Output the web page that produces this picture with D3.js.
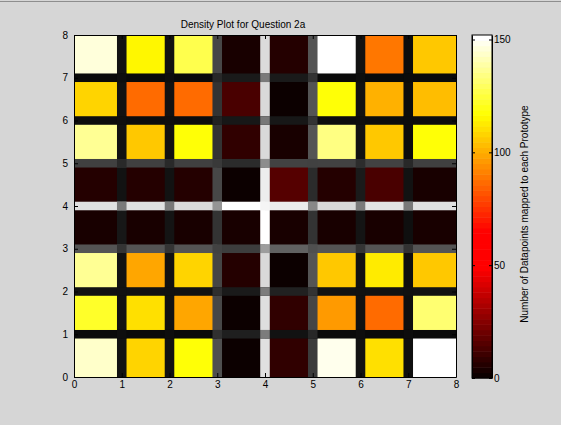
<!DOCTYPE html>
<html>
<head>
<meta charset="utf-8">
<script src="https://cdn.jsdelivr.net/npm/d3@7"></script>
<style>
  body { margin: 0; background: #d6d6d6; }
  svg { display: block; }
  text { font-family: "Liberation Sans", Arial, sans-serif; }
</style>
</head>
<body>
<svg id="chart"></svg>
<script>
// NEEDED VARIABLES
var width = 561;
var height = 425;
var plot = {left: 74, right: 456, top: 35, bottom: 377};
var bar = {left: 472, right: 492};

// DATA
// number of datapoints per prototype, rows from top (y 7-8) to bottom (y 0-1)
var counts = [
  [145, 116, 126,   3,   6, 152,  90, 105],
  [109,  87,  87,  13,   2, 118, 101, 103],
  [137, 105, 118,   9,   3, 134, 105, 118],
  [  6,   6,   6,   2,  16,   6,  13,   3],
  [  3,   3,   3,   3,   3,   3,   3,   3],
  [137,  99, 109,   6,   2, 105, 113, 105],
  [122, 110,  99,   2,   9,  96,  87, 132],
  [144, 109, 118,   2,   9, 148, 110, 152]
];
// distances to neighbour across vertical borders x = 1..7, rows top to bottom (grey level 0..1)
var vGaps = [
  [0.07, 0.07, 0.07, 0.07, 0.09, 0.07, 0.07, 0.07],
  [0.07, 0.07, 0.07, 0.07, 0.08, 0.07, 0.07, 0.07],
  [0.28, 0.20, 0.20, 0.28, 0.20, 0.27, 0.28, 0.31],
  [0.86, 0.85, 0.85, 0.93, 1.00, 0.85, 0.87, 0.88],
  [0.33, 0.33, 0.33, 0.17, 0.20, 0.33, 0.27, 0.23],
  [0.07, 0.07, 0.07, 0.10, 0.08, 0.07, 0.07, 0.07],
  [0.05, 0.05, 0.05, 0.07, 0.06, 0.06, 0.06, 0.06]
];
// distances across horizontal borders y = 7..1, columns left to right
var hGaps = [
  [0.04, 0.04, 0.04, 0.10, 0.10, 0.04, 0.04, 0.04],
  [0.05, 0.05, 0.05, 0.09, 0.09, 0.05, 0.05, 0.05],
  [0.25, 0.25, 0.25, 0.17, 0.26, 0.26, 0.26, 0.25],
  [0.88, 0.88, 0.86, 1.00, 0.92, 0.85, 0.89, 0.88],
  [0.33, 0.33, 0.33, 0.24, 0.38, 0.33, 0.33, 0.33],
  [0.07, 0.07, 0.07, 0.10, 0.13, 0.07, 0.07, 0.07],
  [0.04, 0.04, 0.04, 0.12, 0.07, 0.04, 0.04, 0.04]
];
var axisTicks = [0, 1, 2, 3, 4, 5, 6, 7, 8];
var barTicks = [0, 50, 100, 150];
var colorMax = 152;
var titleText = "Density Plot for Question 2a";
var barLabel = "Number of Datapoints mapped to each Prototype";

var svg = d3.select("#chart")
  .attr("width", width)
  .attr("height", height);

// window frame line at top
svg.append("line")
  .attr("x1", 0).attr("x2", width)
  .attr("y1", 1.5).attr("y2", 1.5)
  .attr("stroke", "#8e8e8e")
  .attr("stroke-width", 1);

// SCALES
var xScale = d3.scaleLinear().domain([0, 8]).range([plot.left, plot.right]);
var yScale = d3.scaleLinear().domain([0, 8]).range([plot.bottom, plot.top]);

// hot-like colormap, 64 steps
var hot = d3.scaleLinear()
  .domain([0, 50, 66, 118, colorMax])
  .range(["#000000", "#ff0000", "#ff0000", "#ffff00", "#ffffff"])
  .clamp(true);
var nLevels = 64;
var levelColor = function(k){ return hot((k + 1) / nLevels * colorMax); };
var colorScale = function(v){
  var k = Math.min(nLevels - 1, Math.floor(v / colorMax * nLevels));
  return levelColor(k);
};
var grey = function(g){
  var c = Math.round(g * 255);
  return "rgb(" + c + "," + c + "," + c + ")";
};

svg.append("clipPath").attr("id", "plotClip")
  .append("rect")
  .attr("x", plot.left).attr("y", plot.top)
  .attr("width", plot.right - plot.left)
  .attr("height", plot.bottom - plot.top);

var grid = svg.append("g").attr("clip-path", "url(#plotClip)");

// cells
var cellData = [];
counts.forEach(function(row, r){
  row.forEach(function(v, c){ cellData.push({row: r, col: c, value: v}); });
});
grid.append("g")
  .selectAll("rect")
  .data(cellData)
  .join("rect")
  .attr("x", function(d){ return xScale(d.col); })
  .attr("y", function(d){ return yScale(8 - d.row); })
  .attr("width", xScale(1) - xScale(0))
  .attr("height", yScale(0) - yScale(1))
  .attr("fill", function(d){ return colorScale(d.value); });

// border segments
var segW = 0.2;
var vData = [];
vGaps.forEach(function(col, j){
  col.forEach(function(g, r){ vData.push({x: j + 1, row: r, g: g}); });
});
grid.append("g")
  .selectAll("rect")
  .data(vData)
  .join("rect")
  .attr("x", function(d){ return xScale(d.x - segW / 2); })
  .attr("y", function(d){ return yScale(8 - d.row); })
  .attr("width", xScale(segW) - xScale(0))
  .attr("height", yScale(0) - yScale(1))
  .attr("fill", function(d){ return grey(d.g); });

var hData = [];
hGaps.forEach(function(row, m){
  row.forEach(function(g, c){ hData.push({y: 7 - m, col: c, g: g}); });
});
grid.append("g")
  .selectAll("rect")
  .data(hData)
  .join("rect")
  .attr("x", function(d){ return xScale(d.col); })
  .attr("y", function(d){ return yScale(d.y + segW / 2); })
  .attr("width", xScale(1) - xScale(0))
  .attr("height", yScale(0) - yScale(segW))
  .attr("fill", function(d){ return grey(d.g); });

// crossings take the mean of their four neighbouring borders
var crossData = [];
for (var j = 1; j <= 7; j++) {
  for (var m = 0; m < 7; m++) {
    var mean = (vGaps[j - 1][m] + vGaps[j - 1][m + 1] + hGaps[m][j - 1] + hGaps[m][j]) / 4;
    crossData.push({x: j, y: 7 - m, g: mean});
  }
}
grid.append("g")
  .selectAll("rect")
  .data(crossData)
  .join("rect")
  .attr("x", function(d){ return xScale(d.x - segW / 2); })
  .attr("y", function(d){ return yScale(d.y + segW / 2); })
  .attr("width", xScale(segW) - xScale(0))
  .attr("height", yScale(0) - yScale(segW))
  .attr("fill", function(d){ return grey(d.g); });

// AXES
function styleAxis(g){
  g.selectAll("path").attr("stroke", "#000");
  g.selectAll("line").attr("stroke", "#000");
  g.selectAll("text").attr("fill", "#000").style("font-size", "10px");
}

svg.append("g")
  .attr("transform", "translate(0," + plot.bottom + ")")
  .call(d3.axisBottom(xScale).tickValues(axisTicks).tickSizeInner(-4).tickSizeOuter(0).tickPadding(4).tickFormat(d3.format("d")))
  .call(styleAxis);
svg.append("g")
  .attr("transform", "translate(" + plot.left + ",0)")
  .call(d3.axisLeft(yScale).tickValues(axisTicks).tickSizeInner(-4).tickSizeOuter(0).tickPadding(6).tickFormat(d3.format("d")))
  .call(styleAxis);
svg.append("g")
  .attr("transform", "translate(0," + plot.top + ")")
  .call(d3.axisTop(xScale).tickValues(axisTicks).tickSizeInner(-4).tickSizeOuter(0).tickFormat(""))
  .call(styleAxis);
svg.append("g")
  .attr("transform", "translate(" + plot.right + ",0)")
  .call(d3.axisRight(yScale).tickValues(axisTicks).tickSizeInner(-4).tickSizeOuter(0).tickFormat(""))
  .call(styleAxis);

// TITLE
svg.append("text")
  .attr("x", 243)
  .attr("y", 28)
  .attr("text-anchor", "middle")
  .style("font-size", "10px")
  .attr("fill", "#000")
  .text(titleText);

// COLORBAR
var barScale = d3.scaleLinear().domain([0, colorMax]).range([plot.bottom + 1, plot.top]);
var levels = d3.range(nLevels);
svg.append("g")
  .selectAll("rect")
  .data(levels)
  .join("rect")
  .attr("x", bar.left)
  .attr("width", bar.right - bar.left)
  .attr("y", function(k){ return barScale((k + 1) / nLevels * colorMax); })
  .attr("height", function(k){ return barScale(k / nLevels * colorMax) - barScale((k + 1) / nLevels * colorMax) + 0.5; })
  .attr("fill", levelColor);

svg.append("rect")
  .attr("x", bar.left).attr("y", plot.top)
  .attr("width", bar.right - bar.left)
  .attr("height", plot.bottom + 1 - plot.top)
  .attr("fill", "none")
  .attr("stroke", "#000");

svg.append("g")
  .attr("transform", "translate(" + bar.right + ",0)")
  .call(d3.axisRight(barScale).tickValues(barTicks).tickSizeInner(-3).tickSizeOuter(0).tickPadding(2))
  .call(styleAxis);
svg.append("g")
  .attr("transform", "translate(" + bar.left + ",0)")
  .call(d3.axisLeft(barScale).tickValues(barTicks).tickSizeInner(-3).tickSizeOuter(0).tickFormat(""))
  .call(styleAxis);

svg.append("text")
  .attr("transform", "translate(528," + 214 + ") rotate(-90)")
  .attr("text-anchor", "middle")
  .style("font-size", "10px")
  .attr("fill", "#000")
  .text(barLabel);
</script>
</body>
</html>
